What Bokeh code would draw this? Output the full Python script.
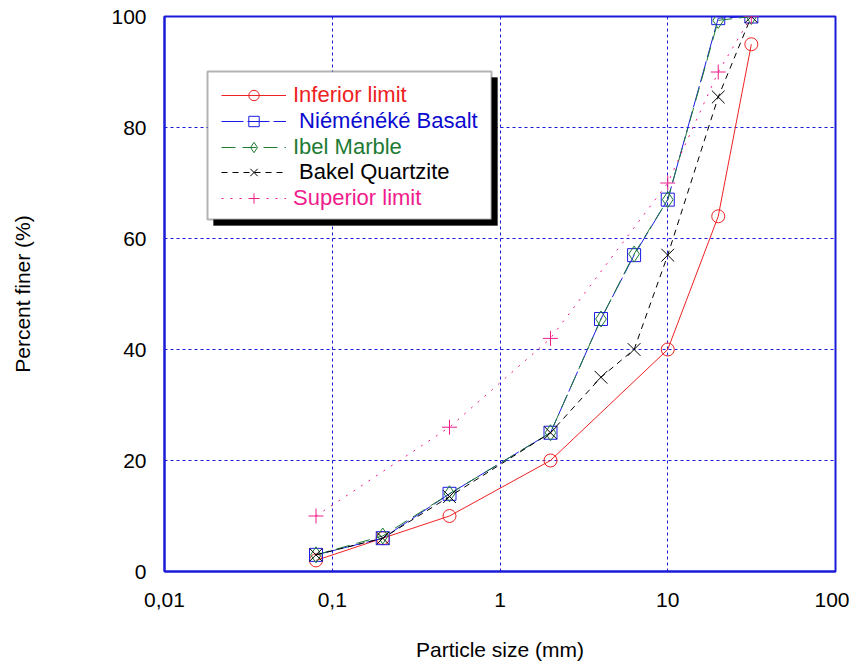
from bokeh.plotting import figure
from bokeh.models import Legend, LegendItem, BoxAnnotation, FixedTicker
from bokeh.embed import file_html
from bokeh.resources import INLINE

# ---- data ----
size_mm = [0.08, 0.2, 0.5, 2, 4, 6.3, 10, 20, 31.5]
inferior_x = [0.08, 0.2, 0.5, 2, 10, 20, 31.5]
inferior_y = [2, 6, 10, 20, 40, 64, 95]
basalt_y = [3, 6, 14, 25, 45.5, 57, 67, 99.7, 100]
marble_y = [3, 6.4, 14, 25, 45.5, 57.2, 67, 99.3, 100]
quartzite_y = [3, 6, 13.5, 25, 35, 40, 57, 85.5, 100]
superior_x = [0.08, 0.5, 2, 10, 20, 31.5]
superior_y = [10, 26, 42, 70, 90, 100]

x_ticks = [0.01, 0.1, 1, 10, 100]
x_tick_labels = ["0,01", "0,1", "1", "10", "100"]
y_ticks = [0, 20, 40, 60, 80, 100]

FONT = "Liberation Sans"
AXIS_BLUE = "#1a1ad8"

p = figure(width=849, height=663, x_axis_type="log", x_range=(0.01, 100), y_range=(0, 100),
           output_backend="svg", toolbar_location=None,
           min_border_left=164, min_border_right=14, min_border_top=16, min_border_bottom=91)
p.background_fill_color = "white"
p.outline_line_color = AXIS_BLUE
p.outline_line_width = 2

p.xaxis.ticker = FixedTicker(ticks=x_ticks)
p.xaxis.major_label_overrides = {t: l for t, l in zip(x_ticks, x_tick_labels)}
p.yaxis.ticker = FixedTicker(ticks=y_ticks)
for ax in (p.xaxis, p.yaxis):
    ax.axis_line_color = AXIS_BLUE
    ax.axis_line_width = 2
    ax.major_tick_out = 0
    ax.major_tick_in = 0
    ax.minor_tick_line_color = None
    ax.major_label_text_font = FONT
    ax.major_label_text_font_size = "21px"
    ax.major_label_text_color = "black"
    ax.axis_label_text_font = FONT
    ax.axis_label_text_font_size = "21px"
    ax.axis_label_text_font_style = "normal"
    ax.axis_label_text_color = "black"
p.xaxis.axis_label = "Particle size (mm)"
p.yaxis.axis_label = "Percent finer (%)"
p.xaxis.major_label_standoff = 21
p.xaxis.axis_label_standoff = 28
p.yaxis.major_label_standoff = 18
p.yaxis.axis_label_standoff = 74

for g in (p.xgrid, p.ygrid):
    g.grid_line_color = AXIS_BLUE
    g.grid_line_dash = "3 3"
    g.grid_line_width = 1

RED = "#ee2222"
BLUE = "#1a1ae6"
GREEN = "#1e7b34"
BLACK = "#000000"
PINK = "#f01c8c"

series = [
    ("Inferior limit", inferior_x, inferior_y, RED, "solid", "circle", RED, 13),
    ("\u00a0Niéménéké Basalt", size_mm, basalt_y, BLUE, "22 4", "square", "#0a0ad0", 13),
    ("Ibel Marble", size_mm, marble_y, GREEN, "14 7", "diamond", GREEN, 16),
    ("\u00a0Bakel Quartzite", size_mm, quartzite_y, BLACK, "6 5", "x", BLACK, 18),
    ("Superior limit", superior_x, superior_y, PINK, "2 7", "cross", PINK, 15),
]

# legend box with shadow (screen units relative to frame)
shadow = BoxAnnotation(left=49, right=333, top=494, bottom=346,
                       left_units="screen", right_units="screen", top_units="screen", bottom_units="screen",
                       fill_color="black", fill_alpha=1, line_color="black")
frame_box = BoxAnnotation(left=43, right=327, top=500, bottom=352,
                          left_units="screen", right_units="screen", top_units="screen", bottom_units="screen",
                          fill_color="white", fill_alpha=1, line_color="black", line_width=2)
p.add_layout(shadow)
p.add_layout(frame_box)

row_top = 463
row_step = 25.8
for i, (label, xs, ys, col, dash, marker, tcol, msize) in enumerate(series):
    lr = p.line(xs, ys, line_color=col, line_width=1, line_dash=dash)
    sr = p.scatter(xs, ys, marker=marker, size=msize, line_color=col, fill_color=None, line_width=1)
    leg = Legend(items=[LegendItem(label=label, renderers=[lr, sr])],
                 location=(57, row_top - i * row_step),
                 background_fill_alpha=0, border_line_color=None,
                 padding=0, margin=0, spacing=0,
                 glyph_width=65, glyph_height=26, label_height=26, label_standoff=7,
                 label_text_font=FONT, label_text_font_size="22px", label_text_color=tcol)
    p.add_layout(leg)

open("out.html", "w").write(file_html(p, INLINE))
